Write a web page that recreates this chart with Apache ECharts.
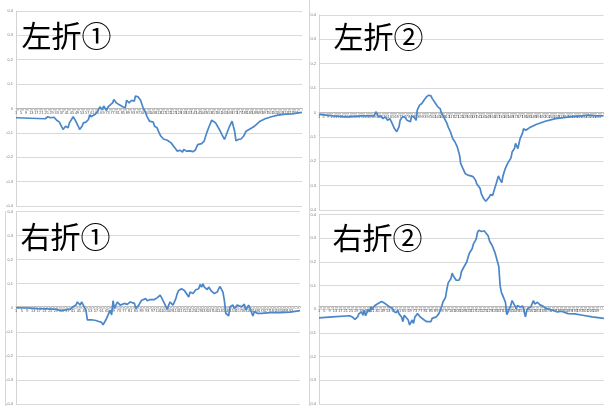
<!DOCTYPE html>
<html>
<head>
<meta charset="utf-8">
<script src="https://cdn.jsdelivr.net/npm/echarts@6/dist/echarts.min.js"></script>
<style>
html,body{margin:0;padding:0;background:#fff;}
#c{width:604px;height:406px;}
</style>
</head>
<body>
<div id="c"></div>
<script>
// ---- data (category index, value) ----
const titles = ['左折①', '左折②', '右折①', '右折②'];
const counts = [226, 250, 200, 215];
const yTicks = [-0.4, -0.3, -0.2, -0.1, 0, 0.1, 0.2, 0.3, 0.4];

const leftTurn1 = [[0,-0.038],[23,-0.042],[25,-0.034],[27,-0.038],[30,-0.036],[32,-0.048],[34,-0.055],[35,-0.052],[37,-0.086],[38,-0.079],[39,-0.073],[41,-0.079],[42,-0.059],[43,-0.067],[45,-0.034],[47,-0.052],[49,-0.073],[50,-0.086],[52,-0.073],[53,-0.059],[55,-0.056],[57,-0.045],[58,-0.025],[59,-0.034],[62,-0.025],[64,-0.014],[66,0.007],[68,-0.004],[69,0.010],[71,-0.007],[73,0.010],[74,0.007],[76,0.023],[77,0.037],[79,0.023],[81,0.016],[82,0.021],[84,0.007],[86,0.003],[87,0.034],[89,0.023],[91,0.034],[93,0.030],[94,0.051],[96,0.048],[98,0.034],[100,0.003],[102,-0.018],[103,-0.032],[105,-0.052],[106,-0.059],[108,-0.056],[109,-0.073],[111,-0.079],[112,-0.093],[114,-0.114],[116,-0.125],[119,-0.130],[122,-0.141],[124,-0.155],[127,-0.175],[129,-0.171],[131,-0.179],[132,-0.168],[134,-0.175],[135,-0.182],[137,-0.174],[139,-0.177],[141,-0.171],[143,-0.148],[144,-0.141],[146,-0.144],[148,-0.134],[150,-0.100],[152,-0.073],[154,-0.048],[155,-0.056],[157,-0.059],[158,-0.066],[160,-0.086],[162,-0.107],[164,-0.127],[165,-0.114],[167,-0.086],[168,-0.073],[170,-0.052],[171,-0.073],[172,-0.093],[173,-0.132],[175,-0.127],[177,-0.125],[179,-0.114],[181,-0.093],[184,-0.084],[187,-0.075],[189,-0.066],[192,-0.052],[196,-0.042],[201,-0.034],[206,-0.027],[212,-0.023],[217,-0.022],[222,-0.018],[225,-0.016]];

const leftTurn2 = [[0,-0.008],[12,-0.014],[24,-0.018],[38,-0.014],[48,-0.014],[50,0.003],[52,-0.018],[54,-0.014],[56,-0.025],[58,-0.018],[60,-0.032],[62,-0.025],[64,-0.045],[66,-0.066],[68,-0.079],[70,-0.059],[71,-0.032],[73,-0.018],[74,-0.025],[75,-0.018],[77,-0.032],[80,-0.038],[81,-0.014],[83,-0.018],[85,-0.032],[86,0.010],[87,0.016],[88,0.030],[90,0.037],[92,0.051],[94,0.064],[96,0.071],[98,0.068],[99,0.058],[102,0.037],[104,0.023],[106,0.016],[107,0.000],[109,-0.018],[112,-0.045],[113,-0.059],[115,-0.079],[117,-0.107],[119,-0.121],[121,-0.141],[123,-0.175],[124,-0.210],[126,-0.230],[128,-0.251],[129,-0.244],[131,-0.258],[133,-0.260],[135,-0.264],[137,-0.278],[138,-0.292],[139,-0.285],[141,-0.312],[142,-0.333],[144,-0.353],[146,-0.364],[147,-0.360],[149,-0.347],[150,-0.337],[152,-0.340],[153,-0.323],[155,-0.292],[157,-0.260],[158,-0.271],[160,-0.288],[161,-0.260],[163,-0.230],[165,-0.210],[166,-0.205],[168,-0.186],[169,-0.162],[171,-0.148],[172,-0.127],[174,-0.148],[175,-0.127],[176,-0.107],[178,-0.086],[179,-0.066],[181,-0.073],[184,-0.063],[190,-0.049],[198,-0.036],[207,-0.025],[219,-0.018],[230,-0.014],[236,-0.011],[242,-0.014],[249,-0.014]];

const rightTurn1 = [[0,0.000],[8,-0.001],[15,-0.004],[22,-0.005],[29,-0.007],[31,-0.012],[34,-0.010],[36,-0.007],[38,-0.007],[40,0.004],[42,0.011],[43,0.024],[44,0.018],[45,0.011],[46,0.024],[47,0.020],[49,-0.010],[50,-0.050],[51,-0.044],[53,-0.050],[54,-0.048],[56,-0.053],[58,-0.057],[60,-0.061],[61,-0.071],[63,-0.050],[64,-0.050],[66,-0.010],[67,-0.030],[68,0.029],[69,-0.003],[71,0.024],[73,0.011],[74,0.004],[76,0.018],[78,0.014],[80,0.024],[81,0.031],[83,0.018],[84,-0.003],[86,0.011],[88,0.031],[89,0.024],[91,0.038],[92,0.029],[94,0.034],[95,0.042],[97,0.034],[99,0.042],[101,0.052],[102,0.042],[104,0.018],[106,-0.007],[107,0.011],[108,0.024],[110,0.011],[112,0.038],[113,0.059],[114,0.072],[116,0.079],[118,0.072],[119,0.065],[121,0.045],[122,0.065],[124,0.059],[126,0.075],[128,0.079],[129,0.097],[130,0.086],[131,0.099],[132,0.086],[134,0.075],[135,0.086],[137,0.069],[139,0.059],[141,0.065],[142,0.079],[143,0.088],[145,0.065],[146,0.031],[147,-0.023],[149,-0.034],[150,0.004],[152,0.011],[153,-0.003],[155,0.011],[156,0.018],[158,0.004],[160,0.015],[161,-0.010],[163,0.011],[164,-0.003],[166,-0.034],[167,-0.016],[169,-0.023],[172,-0.023],[178,-0.020],[185,-0.020],[192,-0.018],[199,-0.012]];

const rightTurn2 = [[0,-0.036],[10,-0.032],[23,-0.027],[25,-0.032],[27,-0.042],[29,-0.032],[30,-0.018],[32,-0.011],[33,-0.025],[34,-0.004],[35,-0.027],[37,0.000],[38,-0.011],[39,0.010],[40,0.000],[42,0.016],[43,0.010],[45,0.027],[47,0.033],[49,0.027],[51,0.019],[53,0.010],[55,0.005],[56,-0.008],[58,-0.014],[59,-0.004],[60,-0.018],[62,-0.032],[63,-0.052],[64,-0.025],[65,-0.018],[67,-0.045],[68,-0.066],[70,-0.045],[71,-0.059],[72,-0.032],[74,-0.018],[76,-0.032],[77,-0.038],[79,-0.045],[81,-0.052],[82,-0.049],[84,-0.052],[85,-0.038],[86,-0.045],[88,-0.032],[90,-0.018],[92,0.010],[93,0.030],[95,0.051],[96,0.085],[97,0.112],[99,0.129],[100,0.153],[101,0.140],[103,0.123],[105,0.123],[106,0.133],[107,0.160],[109,0.181],[111,0.201],[112,0.222],[113,0.238],[115,0.256],[116,0.277],[118,0.297],[119,0.325],[120,0.334],[122,0.329],[123,0.337],[124,0.332],[125,0.334],[127,0.311],[128,0.290],[129,0.284],[130,0.270],[132,0.242],[133,0.222],[134,0.219],[135,0.181],[136,0.099],[137,0.071],[138,0.058],[140,0.030],[141,-0.022],[142,-0.011],[144,0.016],[145,0.037],[147,0.016],[148,0.003],[149,0.016],[151,0.010],[153,0.014],[155,-0.032],[156,-0.004],[157,0.005],[159,0.010],[161,0.037],[162,0.023],[164,0.030],[166,0.019],[168,0.014],[170,0.005],[173,0.000],[176,-0.005],[179,-0.011],[182,-0.008],[183,-0.014],[187,-0.018],[192,-0.019],[198,-0.025],[205,-0.032],[214,-0.038]];

const seriesData = [leftTurn1, leftTurn2, rightTurn1, rightTurn2];

// ---- layout ----
const grids = [
  {left: 16, top: 11, width: 286, height: 195},
  {left: 319, top: 15, width: 285, height: 195},
  {left: 16, top: 211.5, width: 284, height: 196},
  {left: 319, top: 214.7, width: 285, height: 195}
];
const titlePos = [[21.5, 36], [333.5, 36.5], [20.5, 237], [332.5, 237.5]];

function cats(n) { const a = []; for (let i = 1; i <= n; i++) a.push(String(i)); return a; }

const chart = echarts.init(document.getElementById('c'), null, {renderer: 'canvas'});
const option = {
  animation: false,
  backgroundColor: '#ffffff',
  grid: grids.map(g => Object.assign({containLabel: false}, g)),
  xAxis: counts.map((n, k) => ({
    type: 'category',
    gridIndex: k,
    position: 'bottom',
    offset: -grids[k].height / 2,
    data: cats(n),
    boundaryGap: false,
    axisLine: {onZero: false, lineStyle: {color: '#b4b4b4', width: 1}},
    axisTick: {show: true, interval: 0, length: 2, lineStyle: {color: '#c4c4c4'}},
    axisLabel: {interval: 3, fontSize: 3.8, color: '#4a4a4a', margin: 2.5, fontFamily: 'Liberation Sans'},
    splitLine: {show: false}
  })),
  yAxis: counts.map((n, k) => ({
    type: 'value',
    gridIndex: k,
    min: yTicks[0],
    max: yTicks[yTicks.length - 1],
    interval: 0.1,
    axisLine: {show: true, lineStyle: {color: '#d4d4d4', width: 1}},
    axisTick: {show: false},
    axisLabel: {fontSize: 4, color: '#7a7a7a', margin: 3, fontFamily: 'Liberation Sans',
      formatter: v => String(+v.toFixed(1))},
    splitLine: {show: true, lineStyle: {color: '#d9d9d9', width: 1}}
  })),
  series: seriesData.map((d, k) => ({
    type: 'line',
    xAxisIndex: k,
    yAxisIndex: k,
    data: d,
    showSymbol: false,
    symbol: 'none',
    lineStyle: {color: '#4a86c8', width: 1.7},
    z: 5
  })),
  graphic: [
    {type: 'line', shape: {x1: 309.5, y1: 0, x2: 309.5, y2: 406}, style: {stroke: '#d6d6d6', lineWidth: 1}, z: 1},
    {type: 'line', shape: {x1: 5.5, y1: 211, x2: 5.5, y2: 406}, style: {stroke: '#d6d6d6', lineWidth: 1}, z: 1}
  ].concat(titles.map((t, k) => ({
    type: 'text',
    x: titlePos[k][0],
    y: titlePos[k][1],
    z: 10,
    style: {
      text: t,
      fill: '#000000',
      font: '30px "Noto Sans CJK JP"',
      textAlign: 'left',
      textVerticalAlign: 'middle'
    }
  })))
};
chart.setOption(option);
</script>
</body>
</html>
